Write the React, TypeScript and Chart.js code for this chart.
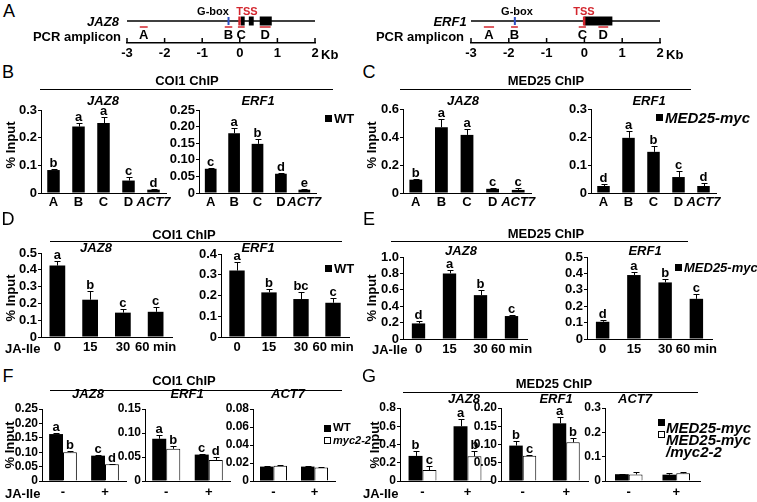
import React, { useEffect, useRef } from 'react';
import { Chart, registerables } from 'chart.js';

Chart.register(...registerables);

const FONT = '"Liberation Sans", Arial, Helvetica, sans-serif';
const RED = '#d3262e';
const BLUE = '#2f4fc4';

// ---------------- DATA ----------------
const promoterLabels = ['A', 'B', 'C', 'D', 'ACT7'];
const timeLabels = ['0', '15', '30', '60 min'];
const jaLabels = ['-', '+'];
const ampliconNames = ['A', 'B', 'C', 'D'];

// Panel A: gene models (kb relative to TSS)
const jaz8Exons: [number, number][] = [[0.03, 0.13], [0.24, 0.37], [0.53, 0.85]];
const jaz8Tss = 0;
const jaz8Gbox = -0.3;
const jaz8Amplicons: [number, number][] = [[-2.66, -2.45], [-0.4, -0.2], [-0.05, 0.13], [0.53, 0.82]];
const erf1Exons: [number, number][] = [[0.0, 0.74]];
const erf1Tss = 0;
const erf1Gbox = -1.84;
const erf1Amplicons: [number, number][] = [[-2.66, -2.39], [-1.94, -1.76], [-0.15, 0.04], [0.37, 0.63]];

// Panel B: COI1 ChIP, WT
const bJaz8 = [0.083, 0.24, 0.253, 0.045, 0.012];
const bJaz8Err = [0.003, 0.013, 0.02, 0.014, 0.001];
const bJaz8Let = ['b', 'a', 'a', 'c', 'd'];
const bErf1 = [0.073, 0.18, 0.148, 0.058, 0.01];
const bErf1Err = [0.003, 0.017, 0.015, 0.002, 0.001];
const bErf1Let = ['c', 'a', 'b', 'd', 'e'];

// Panel C: MED25 ChIP, MED25-myc
const cJaz8 = [0.095, 0.47, 0.415, 0.03, 0.022];
const cJaz8Err = [0.005, 0.062, 0.04, 0.005, 0.012];
const cJaz8Let = ['b', 'a', 'a', 'c', 'c'];
const cErf1 = [0.025, 0.197, 0.147, 0.057, 0.025];
const cErf1Err = [0.008, 0.025, 0.02, 0.02, 0.012];
const cErf1Let = ['d', 'a', 'b', 'c', 'd'];

// Panel D: COI1 ChIP time course
const dJaz8 = [0.425, 0.222, 0.145, 0.15];
const dJaz8Err = [0.03, 0.05, 0.02, 0.03];
const dJaz8Let = ['a', 'b', 'c', 'c'];
const dErf1 = [0.32, 0.215, 0.183, 0.165];
const dErf1Err = [0.04, 0.015, 0.035, 0.022];
const dErf1Let = ['a', 'b', 'bc', 'c'];

// Panel E: MED25 ChIP time course
const eJaz8 = [0.19, 0.8, 0.535, 0.28];
const eJaz8Err = [0.03, 0.04, 0.06, 0.01];
const eJaz8Let = ['d', 'a', 'b', 'c'];
const eErf1 = [0.105, 0.39, 0.345, 0.245];
const eErf1Err = [0.008, 0.02, 0.02, 0.03];
const eErf1Let = ['d', 'a', 'b', 'c'];

// Panel F: COI1 ChIP, WT vs myc2-2
const fJaz8Wt = [0.163, 0.088];
const fJaz8WtErr = [0.002, 0.003];
const fJaz8WtLet = ['a', 'c'];
const fJaz8Myc = [0.1, 0.058];
const fJaz8MycErr = [0.004, 0.002];
const fJaz8MycLet = ['b', 'd'];
const fErf1Wt = [0.088, 0.055];
const fErf1WtErr = [0.008, 0.002];
const fErf1WtLet = ['a', 'c'];
const fErf1Myc = [0.067, 0.044];
const fErf1MycErr = [0.005, 0.005];
const fErf1MycLet = ['b', 'd'];
const fAct7Wt = [0.016, 0.016];
const fAct7WtErr = [0.001, 0.001];
const fAct7Myc = [0.017, 0.015];
const fAct7MycErr = [0.001, 0.001];

// Panel G: MED25 ChIP, MED25-myc vs MED25-myc/myc2-2
const gJaz8Med = [0.275, 0.6];
const gJaz8MedErr = [0.05, 0.08];
const gJaz8MedLet = ['b', 'a'];
const gJaz8Myc = [0.12, 0.27];
const gJaz8MycErr = [0.04, 0.06];
const gJaz8MycLet = ['c', 'b'];
const gErf1Med = [0.097, 0.158];
const gErf1MedErr = [0.013, 0.017];
const gErf1MedLet = ['b', 'a'];
const gErf1Myc = [0.069, 0.106];
const gErf1MycErr = [0.003, 0.013];
const gErf1MycLet = ['c', 'b'];
const gAct7Med = [0.028, 0.026];
const gAct7MedErr = [0.002, 0.007];
const gAct7Myc = [0.027, 0.032];
const gAct7MycErr = [0.01, 0.003];

// ---------------- COMPONENTS ----------------
type Series = { data: number[]; errors: number[]; letters?: string[]; fill: string; outline?: boolean };

const errLetterPlugin = {
  id: 'errLetters',
  afterDatasetsDraw(chart: any) {
    const ctx = chart.ctx;
    const y = chart.scales.y;
    chart.data.datasets.forEach((ds: any, di: number) => {
      const meta = chart.getDatasetMeta(di);
      meta.data.forEach((bar: any, i: number) => {
        const v = ds.data[i];
        const e = ds.errors ? ds.errors[i] : 0;
        const x = Math.round(bar.x) + 0.5;
        const yv = y.getPixelForValue(v);
        const yt = Math.round(y.getPixelForValue(v + e)) + 0.5;
        ctx.save();
        ctx.strokeStyle = '#000';
        ctx.lineWidth = 1;
        if (e > 0) {
          ctx.beginPath();
          ctx.moveTo(x, yv);
          ctx.lineTo(x, yt);
          ctx.moveTo(x - 3, yt);
          ctx.lineTo(x + 3, yt);
          ctx.stroke();
        }
        const letter = ds.letters ? ds.letters[i] : null;
        if (letter) {
          ctx.fillStyle = '#000';
          ctx.font = `bold 13px ${FONT}`;
          ctx.textAlign = 'center';
          ctx.textBaseline = 'alphabetic';
          ctx.fillText(letter, bar.x, yt - 3);
        }
        ctx.restore();
      });
    });
  },
};

const Y_W = 44;
const PAD_T = 18;
const PAD_R = 14;
const X_H = 24;

function BarChart(props: {
  labels: string[];
  series: Series[];
  yMax: number;
  yStep: number;
  decimals: number;
  left: number;
  right: number;
  top: number;
  bottom: number;
  catPct: number;
  barPct: number;
  labelPad: number;
  tickSize?: number;
}) {
  const ref = useRef<HTMLCanvasElement>(null);
  const { labels, series, yMax, yStep, decimals, left, right, top, bottom, catPct, barPct, labelPad } = props;
  const tickSize = props.tickSize || 13;
  const cl = left - Y_W;
  const ct = top - PAD_T;
  const w = right - cl + PAD_R;
  const h = bottom - ct + X_H;
  useEffect(() => {
    const chart = new Chart(ref.current as HTMLCanvasElement, {
      type: 'bar',
      data: {
        labels,
        datasets: series.map((s) => ({
          data: s.data,
          errors: s.errors,
          letters: s.letters,
          backgroundColor: s.fill,
          borderColor: '#000',
          borderWidth: s.outline ? 1 : 0,
          categoryPercentage: catPct,
          barPercentage: barPct,
        })) as any,
      },
      options: {
        responsive: false,
        animation: false,
        devicePixelRatio: 1,
        layout: { padding: { left: 0, top: PAD_T, right: PAD_R, bottom: 0 } },
        plugins: { legend: { display: false }, tooltip: { enabled: false }, title: { display: false } },
        scales: {
          x: {
            type: 'category',
            offset: true,
            afterFit: (s: any) => {
              s.height = X_H;
            },
            grid: { display: false, drawTicks: false },
            border: { display: true, color: '#000', width: 1 },
            ticks: {
              autoSkip: false,
              maxRotation: 0,
              minRotation: 0,
              padding: labelPad,
              color: '#000',
              font: (c: any) => ({
                family: FONT,
                size: 13,
                weight: 'bold',
                style: labels[c.index] === 'ACT7' ? 'italic' : 'normal',
              }),
            },
          },
          y: {
            type: 'linear',
            min: 0,
            max: yMax,
            afterFit: (s: any) => {
              s.width = Y_W;
            },
            ticks: {
              stepSize: yStep,
              autoSkip: false,
              padding: 1,
              color: '#000',
              font: { family: FONT, size: tickSize, weight: 'bold' },
              callback: (v: any) => (Number(v) === 0 ? '0' : Number(v).toFixed(decimals)),
            },
            grid: { display: true, drawOnChartArea: false, drawTicks: true, tickLength: 3, color: '#000', lineWidth: 1 },
            border: { display: true, color: '#000', width: 1 },
          },
        },
      } as any,
      plugins: [errLetterPlugin],
    });
    return () => chart.destroy();
  }, []);
  return (
    <canvas
      ref={ref}
      width={w}
      height={h}
      style={{ position: 'absolute', left: cl, top: ct, width: w, height: h }}
    />
  );
}

function GeneChart(props: {
  left: number;
  right: number;
  axisY: number;
  exons: [number, number][];
  tss: number;
  gbox: number;
  amplicons: [number, number][];
}) {
  const ref = useRef<HTMLCanvasElement>(null);
  const { left, right, axisY, exons, tss, gbox, amplicons } = props;
  const PL = 20;
  const PR = 20;
  const XH = 20;
  const cl = left - PL;
  const w = right - left + PL + PR;
  const h = axisY + XH;
  useEffect(() => {
    const plugin = {
      id: 'gene',
      afterDraw(chart: any) {
        const { ctx, chartArea } = chart;
        const x = chart.scales.x;
        const b = chartArea.bottom;
        const geneY = b - 22;
        const ampY = b - 16;
        const labY = b - 8;
        ctx.save();
        ctx.strokeStyle = '#000';
        ctx.lineWidth = 1.5;
        ctx.beginPath();
        ctx.moveTo(x.getPixelForValue(x.min), geneY);
        ctx.lineTo(x.getPixelForValue(x.max), geneY);
        ctx.stroke();
        ctx.fillStyle = '#000';
        exons.forEach(([s, e]) => {
          const x1 = x.getPixelForValue(s);
          const x2 = x.getPixelForValue(e);
          ctx.fillRect(x1, geneY - 4.5, x2 - x1, 9);
        });
        ctx.fillStyle = RED;
        const tx = x.getPixelForValue(tss);
        ctx.fillRect(tx - 1.5, geneY - 4.5, 2.5, 9);
        ctx.fillStyle = BLUE;
        const gx = x.getPixelForValue(gbox);
        ctx.fillRect(gx - 1, geneY - 4, 2, 8);
        ctx.strokeStyle = RED;
        ctx.lineWidth = 1.5;
        ctx.fillStyle = '#000';
        ctx.font = `bold 13px ${FONT}`;
        ctx.textAlign = 'center';
        ctx.textBaseline = 'middle';
        amplicons.forEach(([s, e], i) => {
          const x1 = x.getPixelForValue(s);
          const x2 = x.getPixelForValue(e);
          ctx.beginPath();
          ctx.moveTo(x1, ampY);
          ctx.lineTo(x2, ampY);
          ctx.stroke();
          ctx.fillText(ampliconNames[i], (x1 + x2) / 2, labY);
        });
        ctx.strokeStyle = '#000';
        ctx.lineWidth = 1.5;
        x.ticks.forEach((t: any) => {
          const px = x.getPixelForValue(t.value);
          ctx.beginPath();
          ctx.moveTo(px, b);
          ctx.lineTo(px, b - 5);
          ctx.stroke();
        });
        ctx.restore();
      },
    };
    const chart = new Chart(ref.current as HTMLCanvasElement, {
      type: 'scatter',
      data: { datasets: [{ data: [] }] },
      options: {
        responsive: false,
        animation: false,
        devicePixelRatio: 1,
        layout: { padding: { left: PL, right: PR, top: 2, bottom: 0 } },
        plugins: { legend: { display: false }, tooltip: { enabled: false } },
        scales: {
          x: {
            type: 'linear',
            min: -3,
            max: 2,
            afterFit: (s: any) => {
              s.height = XH;
            },
            ticks: { stepSize: 1, autoSkip: false, padding: 3, color: '#000', font: { family: FONT, size: 13, weight: 'bold' } },
            grid: { display: false, drawTicks: false },
            border: { display: true, color: '#000', width: 1.5 },
          },
          y: { display: false, min: 0, max: 1 },
        },
      } as any,
      plugins: [plugin],
    });
    return () => chart.destroy();
  }, []);
  return (
    <canvas ref={ref} width={w} height={h} style={{ position: 'absolute', left: cl, top: 0, width: w, height: h }} />
  );
}

function Txt(props: {
  x: number;
  y: number;
  children: React.ReactNode;
  size?: number;
  bold?: boolean;
  italic?: boolean;
  color?: string;
  align?: 'center' | 'left';
  rotate?: boolean;
}) {
  const { x, y, children, size = 13, bold = true, italic = false, color = '#000', align = 'center', rotate = false } = props;
  const tx = align === 'center' ? '-50%' : '0';
  return (
    <div
      style={{
        position: 'absolute',
        left: x,
        top: y,
        transform: `translate(${tx}, -50%)${rotate ? ' rotate(-90deg)' : ''}`,
        fontFamily: FONT,
        fontSize: size,
        fontWeight: bold ? 'bold' : 'normal',
        fontStyle: italic ? 'italic' : 'normal',
        whiteSpace: 'nowrap',
        lineHeight: 1,
        color,
      }}
    >
      {children}
    </div>
  );
}

function HLine({ x1, x2, y }: { x1: number; x2: number; y: number }) {
  return <div style={{ position: 'absolute', left: x1, top: y, width: x2 - x1, height: 0, borderTop: '1px solid #000' }} />;
}

function Box({ x, y, filled }: { x: number; y: number; filled: boolean }) {
  return (
    <div
      style={{
        position: 'absolute',
        left: x - 3,
        top: y - 3,
        width: filled ? 7 : 5,
        height: filled ? 7 : 5,
        background: filled ? '#000' : '#fff',
        border: filled ? 'none' : '1px solid #000',
      }}
    />
  );
}

const black = '#000';
const white = '#fff';

export default function App() {
  return (
    <div style={{ position: 'absolute', left: 0, top: 0, width: 757, height: 502, background: '#fff', overflow: 'hidden' }}>
      {/* Panel A */}
      <GeneChart left={127} right={315} axisY={43} exons={jaz8Exons} tss={jaz8Tss} gbox={jaz8Gbox} amplicons={jaz8Amplicons} />
      <GeneChart left={471} right={660} axisY={43} exons={erf1Exons} tss={erf1Tss} gbox={erf1Gbox} amplicons={erf1Amplicons} />

      {/* Panel B */}
      <BarChart labels={promoterLabels} series={[{ data: bJaz8, errors: bJaz8Err, letters: bJaz8Let, fill: black }]}
        yMax={0.3} yStep={0.1} decimals={1} left={41} right={166} top={110} bottom={193} catPct={1} barPct={0.5} labelPad={2} />
      <BarChart labels={promoterLabels} series={[{ data: bErf1, errors: bErf1Err, letters: bErf1Let, fill: black }]}
        yMax={0.25} yStep={0.05} decimals={2} left={199} right={316} top={110} bottom={193} catPct={1} barPct={0.5} labelPad={2} />

      {/* Panel C */}
      <BarChart labels={promoterLabels} series={[{ data: cJaz8, errors: cJaz8Err, letters: cJaz8Let, fill: black }]}
        yMax={0.6} yStep={0.2} decimals={1} left={403} right={531} top={109} bottom={193} catPct={1} barPct={0.5} labelPad={2} />
      <BarChart labels={promoterLabels} series={[{ data: cErf1, errors: cErf1Err, letters: cErf1Let, fill: black }]}
        yMax={0.3} yStep={0.1} decimals={1} left={591} right={716} top={109} bottom={193} catPct={1} barPct={0.5} labelPad={2} />

      {/* Panel D */}
      <BarChart labels={timeLabels} series={[{ data: dJaz8, errors: dJaz8Err, letters: dJaz8Let, fill: black }]}
        yMax={0.5} yStep={0.1} decimals={1} left={41} right={172} top={253} bottom={337} catPct={1} barPct={0.48} labelPad={3} />
      <BarChart labels={timeLabels} series={[{ data: dErf1, errors: dErf1Err, letters: dErf1Let, fill: black }]}
        yMax={0.4} yStep={0.1} decimals={1} left={221} right={349} top={254} bottom={337} catPct={1} barPct={0.48} labelPad={3} />

      {/* Panel E */}
      <BarChart labels={timeLabels} series={[{ data: eJaz8, errors: eJaz8Err, letters: eJaz8Let, fill: black }]}
        yMax={1.0} yStep={0.2} decimals={1} left={403} right={527} top={257} bottom={339} catPct={1} barPct={0.43} labelPad={3} />
      <BarChart labels={timeLabels} series={[{ data: eErf1, errors: eErf1Err, letters: eErf1Let, fill: black }]}
        yMax={0.5} yStep={0.1} decimals={1} left={587} right={712} top={257} bottom={339} catPct={1} barPct={0.43} labelPad={3} />

      {/* Panel F */}
      <BarChart labels={jaLabels}
        series={[
          { data: fJaz8Wt, errors: fJaz8WtErr, letters: fJaz8WtLet, fill: black },
          { data: fJaz8Myc, errors: fJaz8MycErr, letters: fJaz8MycLet, fill: white, outline: true },
        ]}
        yMax={0.25} yStep={0.05} decimals={2} left={42} right={126} top={409} bottom={481} catPct={0.66} barPct={1} labelPad={4} tickSize={12} />
      <BarChart labels={jaLabels}
        series={[
          { data: fErf1Wt, errors: fErf1WtErr, letters: fErf1WtLet, fill: black },
          { data: fErf1Myc, errors: fErf1MycErr, letters: fErf1MycLet, fill: white, outline: true },
        ]}
        yMax={0.15} yStep={0.05} decimals={2} left={145} right={230} top={409} bottom={481} catPct={0.66} barPct={1} labelPad={4} tickSize={12} />
      <BarChart labels={jaLabels}
        series={[
          { data: fAct7Wt, errors: fAct7WtErr, fill: black },
          { data: fAct7Myc, errors: fAct7MycErr, fill: white, outline: true },
        ]}
        yMax={0.08} yStep={0.02} decimals={2} left={253} right={335} top={409} bottom={481} catPct={0.66} barPct={1} labelPad={4} tickSize={12} />

      {/* Panel G */}
      <BarChart labels={jaLabels}
        series={[
          { data: gJaz8Med, errors: gJaz8MedErr, letters: gJaz8MedLet, fill: black },
          { data: gJaz8Myc, errors: gJaz8MycErr, letters: gJaz8MycLet, fill: white, outline: true },
        ]}
        yMax={0.8} yStep={0.2} decimals={1} left={400} right={490} top={408} bottom={481} catPct={0.62} barPct={1} labelPad={4} tickSize={12} />
      <BarChart labels={jaLabels}
        series={[
          { data: gErf1Med, errors: gErf1MedErr, letters: gErf1MedLet, fill: black },
          { data: gErf1Myc, errors: gErf1MycErr, letters: gErf1MycLet, fill: white, outline: true },
        ]}
        yMax={0.2} yStep={0.05} decimals={2} left={501} right={588} top={408} bottom={481} catPct={0.62} barPct={1} labelPad={4} tickSize={12} />
      <BarChart labels={jaLabels}
        series={[
          { data: gAct7Med, errors: gAct7MedErr, fill: black },
          { data: gAct7Myc, errors: gAct7MycErr, fill: white, outline: true },
        ]}
        yMax={0.3} yStep={0.1} decimals={1} left={605} right={700} top={408} bottom={481} catPct={0.58} barPct={1} labelPad={4} tickSize={12} />

      {/* Panel letters */}
      <Txt x={9} y={11} size={18} bold={false}>A</Txt>
      <Txt x={8} y={72} size={18} bold={false}>B</Txt>
      <Txt x={369} y={72} size={18} bold={false}>C</Txt>
      <Txt x={8} y={219} size={18} bold={false}>D</Txt>
      <Txt x={369} y={219} size={18} bold={false}>E</Txt>
      <Txt x={8} y={376} size={18} bold={false}>F</Txt>
      <Txt x={369} y={376} size={18} bold={false}>G</Txt>

      {/* Panel A text */}
      <Txt x={103} y={21} italic>JAZ8</Txt>
      <Txt x={77} y={36}>PCR amplicon</Txt>
      <Txt x={213} y={11} size={11}>G-box</Txt>
      <Txt x={247} y={11} size={11} color={RED}>TSS</Txt>
      <Txt x={321} y={54} align="left">Kb</Txt>
      <Txt x={450} y={21} italic>ERF1</Txt>
      <Txt x={420} y={36}>PCR amplicon</Txt>
      <Txt x={517} y={11} size={11}>G-box</Txt>
      <Txt x={584} y={11} size={11} color={RED}>TSS</Txt>
      <Txt x={666} y={54} align="left">Kb</Txt>

      {/* Panel B text */}
      <Txt x={187} y={80}>COI1 ChIP</Txt>
      <HLine x1={40} x2={333} y={89} />
      <Txt x={103} y={100} italic>JAZ8</Txt>
      <Txt x={258} y={100} italic>ERF1</Txt>
      <Txt x={10} y={145} rotate>% Input</Txt>
      <Box x={328} y={118} filled />
      <Txt x={334} y={118} align="left">WT</Txt>

      {/* Panel C text */}
      <Txt x={546} y={80}>MED25 ChIP</Txt>
      <HLine x1={400} x2={691} y={89} />
      <Txt x={463} y={100} italic>JAZ8</Txt>
      <Txt x={649} y={100} italic>ERF1</Txt>
      <Txt x={371} y={145} rotate>% Input</Txt>
      <Box x={659} y={117} filled />
      <Txt x={665} y={117} align="left" italic size={15}>MED25-myc</Txt>

      {/* Panel D text */}
      <Txt x={184} y={234}>COI1 ChIP</Txt>
      <HLine x1={50} x2={342} y={241} />
      <Txt x={96} y={247} italic>JAZ8</Txt>
      <Txt x={258} y={247} italic>ERF1</Txt>
      <Txt x={10} y={298} rotate>% Input</Txt>
      <Txt x={5} y={348} align="left">JA-Ile</Txt>
      <Box x={328} y={268} filled />
      <Txt x={334} y={268} align="left">WT</Txt>

      {/* Panel E text */}
      <Txt x={546} y={233}>MED25 ChIP</Txt>
      <HLine x1={391} x2={688} y={241} />
      <Txt x={461} y={250} italic>JAZ8</Txt>
      <Txt x={645} y={250} italic>ERF1</Txt>
      <Txt x={371} y={298} rotate>% Input</Txt>
      <Txt x={372} y={349} align="left">JA-Ile</Txt>
      <Box x={678} y={267} filled />
      <Txt x={684} y={267} align="left" italic>MED25-myc</Txt>

      {/* Panel F text */}
      <Txt x={184} y={380}>COI1 ChIP</Txt>
      <HLine x1={50} x2={342} y={390} />
      <Txt x={88} y={393} italic>JAZ8</Txt>
      <Txt x={187} y={393} italic>ERF1</Txt>
      <Txt x={288} y={393} italic>ACT7</Txt>
      <Txt x={9} y={445} rotate>% Input</Txt>
      <Txt x={5} y={493} align="left">JA-Ile</Txt>
      <Box x={327} y={428} filled />
      <Txt x={333} y={428} align="left" size={11.5}>WT</Txt>
      <Box x={327} y={440} filled={false} />
      <Txt x={333} y={440} align="left" italic size={11}>myc2-2</Txt>

      {/* Panel G text */}
      <Txt x={554} y={383}>MED25 ChIP</Txt>
      <HLine x1={403} x2={698} y={392} />
      <Txt x={464} y={398} italic>JAZ8</Txt>
      <Txt x={556} y={398} italic>ERF1</Txt>
      <Txt x={635} y={398} italic>ACT7</Txt>
      <Txt x={374} y={445} rotate>% Input</Txt>
      <Txt x={363} y={493} align="left">JA-Ile</Txt>
      <Box x={661} y={422} filled />
      <Txt x={666} y={427} align="left" italic size={15}>MED25-myc</Txt>
      <Box x={661} y={434} filled={false} />
      <Txt x={666} y={439} align="left" italic size={15}>MED25-myc</Txt>
      <Txt x={666} y={451} align="left" italic size={15}>/myc2-2</Txt>
    </div>
  );
}
